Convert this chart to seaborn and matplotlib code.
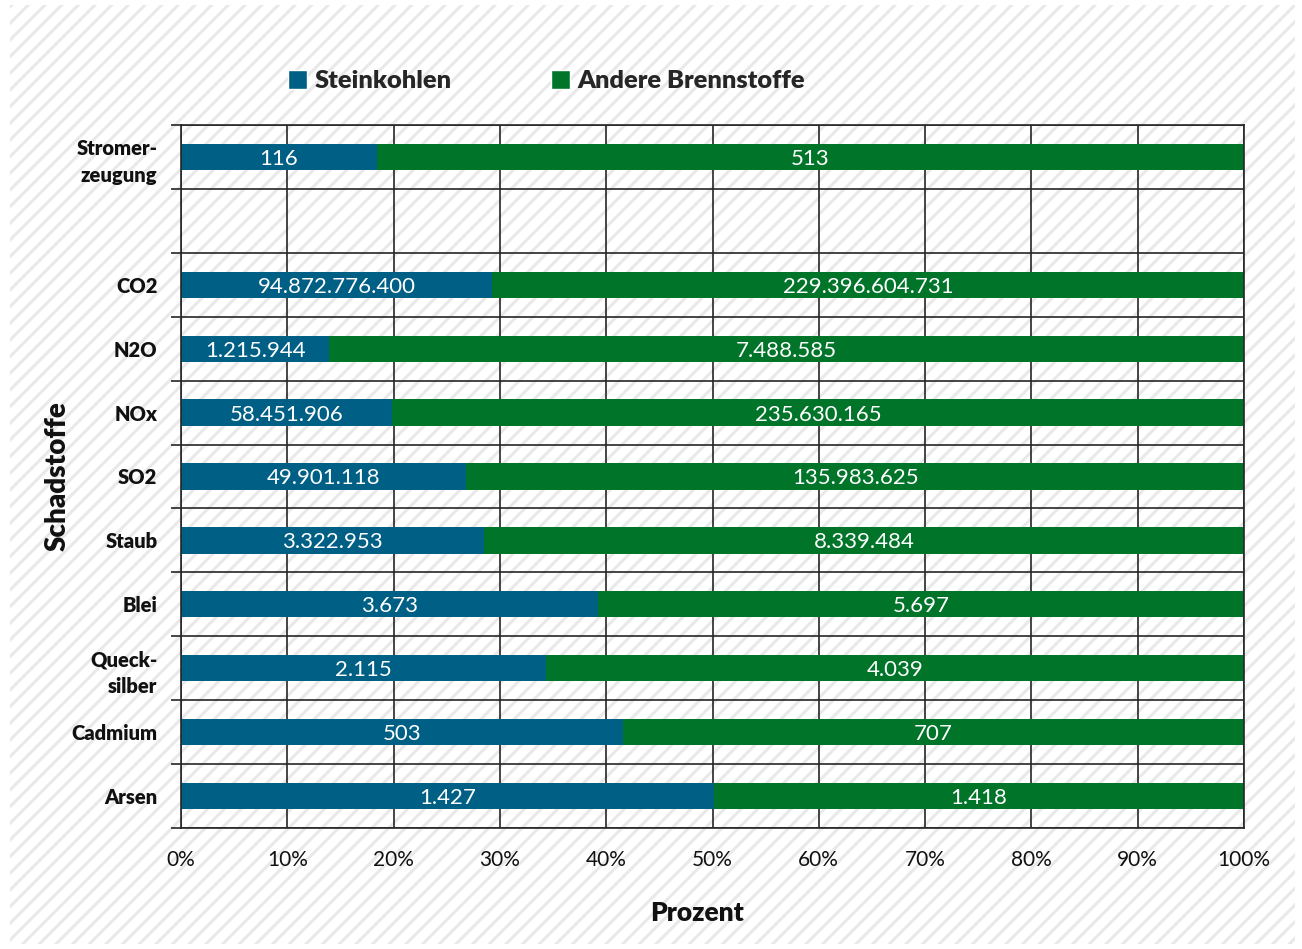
import pandas as pd
import seaborn as sns
import matplotlib.pyplot as plt
from matplotlib.patches import Rectangle, Patch
from matplotlib.ticker import MultipleLocator, FixedLocator, PercentFormatter

# data
categories = ["Stromer-\nzeugung", " ", "CO2", "N2O", "NOx", "SO2", "Staub",
              "Blei", "Queck-\nsilber", "Cadmium", "Arsen"]
schadstoffe = ["Stromer-\nzeugung", "CO2", "N2O", "NOx", "SO2", "Staub",
               "Blei", "Queck-\nsilber", "Cadmium", "Arsen"]
steinkohlen = [116, 94872776400, 1215944, 58451906, 49901118, 3322953,
               3673, 2115, 503, 1427]
andere = [513, 229396604731, 7488585, 235630165, 135983625, 8339484,
          5697, 4039, 707, 1418]

BLUE = "#005f85"
GREEN = "#00752a"

sns.set_style("ticks")
plt.rcParams["font.family"] = ["Lato", "DejaVu Sans"]
plt.rcParams["hatch.linewidth"] = 2.2

df = pd.DataFrame({"Schadstoff": schadstoffe, "Steinkohlen": steinkohlen, "Andere": andere})
df["total"] = df["Steinkohlen"] + df["Andere"]
df["stein_pct"] = df["Steinkohlen"] / df["total"] * 100
df["full_pct"] = 100.0


def de_fmt(v):
    return f"{v:,}".replace(",", ".")


fig = plt.figure(figsize=(13.02, 9.49), dpi=100)
fig.patch.set_facecolor("white")
fig.patches.append(Rectangle((10 / 1302, 5 / 949), 1285 / 1302, 939 / 949,
                             transform=fig.transFigure, facecolor="white",
                             edgecolor="#e9e9e9", hatch="//", linewidth=0, zorder=-5))
ax = fig.add_axes([181 / 1302, 1 - 828 / 949, 1063 / 1302, 703 / 949])
ax.set_facecolor("none")

sns.barplot(data=df, y="Schadstoff", x="full_pct", order=categories, color=GREEN,
            width=0.41, orient="h", saturation=1, errorbar=None, ax=ax, linewidth=0)
sns.barplot(data=df, y="Schadstoff", x="stein_pct", order=categories, color=BLUE,
            width=0.41, orient="h", saturation=1, errorbar=None, ax=ax, linewidth=0)

lookup = df.set_index("Schadstoff")
green_c, blue_c = ax.containers[0], ax.containers[1]
green_labels, blue_labels = [], []
for gp, bp in zip(green_c.patches, blue_c.patches):
    cat = categories[int(round(gp.get_y() + gp.get_height() / 2))]
    row = lookup.loc[cat]
    gp.set_x(row["stein_pct"])
    gp.set_width(100 - row["stein_pct"])
    green_labels.append(de_fmt(int(row["Andere"])))
    cat_b = categories[int(round(bp.get_y() + bp.get_height() / 2))]
    blue_labels.append(de_fmt(int(lookup.loc[cat_b, "Steinkohlen"])))

for txt in ax.bar_label(green_c, labels=green_labels, label_type="center", color="white", fontsize=16):
    txt.set_va("center_baseline")
for txt in ax.bar_label(blue_c, labels=blue_labels, label_type="center", color="white", fontsize=16):
    txt.set_va("center_baseline")

ax.set_xlim(0, 100)
ax.set_ylim(len(categories) - 0.5, -0.5)
ax.xaxis.set_major_locator(MultipleLocator(10))
ax.xaxis.set_major_formatter(PercentFormatter(decimals=0))
ax.yaxis.set_minor_locator(FixedLocator([i + 0.5 for i in range(-1, len(categories))]))

line_col = "#262626"
ax.set_axisbelow(True)
ax.grid(axis="x", which="major", color=line_col, linewidth=1.2)
ax.grid(axis="y", which="minor", color=line_col, linewidth=1.2)
for s in ax.spines.values():
    s.set_visible(True)
    s.set_color(line_col)
    s.set_linewidth(1.2)

ax.tick_params(axis="x", which="major", length=0, pad=16, labelsize=15, labelcolor="#111111")
ax.tick_params(axis="y", which="major", length=0, pad=17, labelsize=14.5)
ax.tick_params(axis="y", which="minor", length=7, width=1.2, color=line_col)
for lab in ax.get_yticklabels():
    lab.set_fontweight("heavy")
    lab.set_linespacing(1.45)
    lab.set_color("#111111")

ax.set_xlabel("Prozent", fontsize=19, fontweight="heavy", color="#111111")
ax.xaxis.set_label_coords(0.4854, -0.121)
ax.xaxis.label.set_va("center")
ax.set_ylabel("Schadstoffe", fontsize=20, fontweight="heavy", color="#111111")
ax.yaxis.label.set_va("center")
ax.yaxis.set_label_coords(-0.1157, 0.5)

handles = [Patch(facecolor=BLUE, label="Steinkohlen"),
           Patch(facecolor=GREEN, label="Andere Brennstoffe")]
fig.legend(handles=handles, loc="center", bbox_to_anchor=(0.4197, 1 - 81 / 949), ncol=2,
           frameon=False, handlelength=0.75, handleheight=0.75, handletextpad=0.3,
           columnspacing=3.9, prop={"size": 18.3, "weight": "heavy"})

fig.savefig("out.png", dpi=100)
